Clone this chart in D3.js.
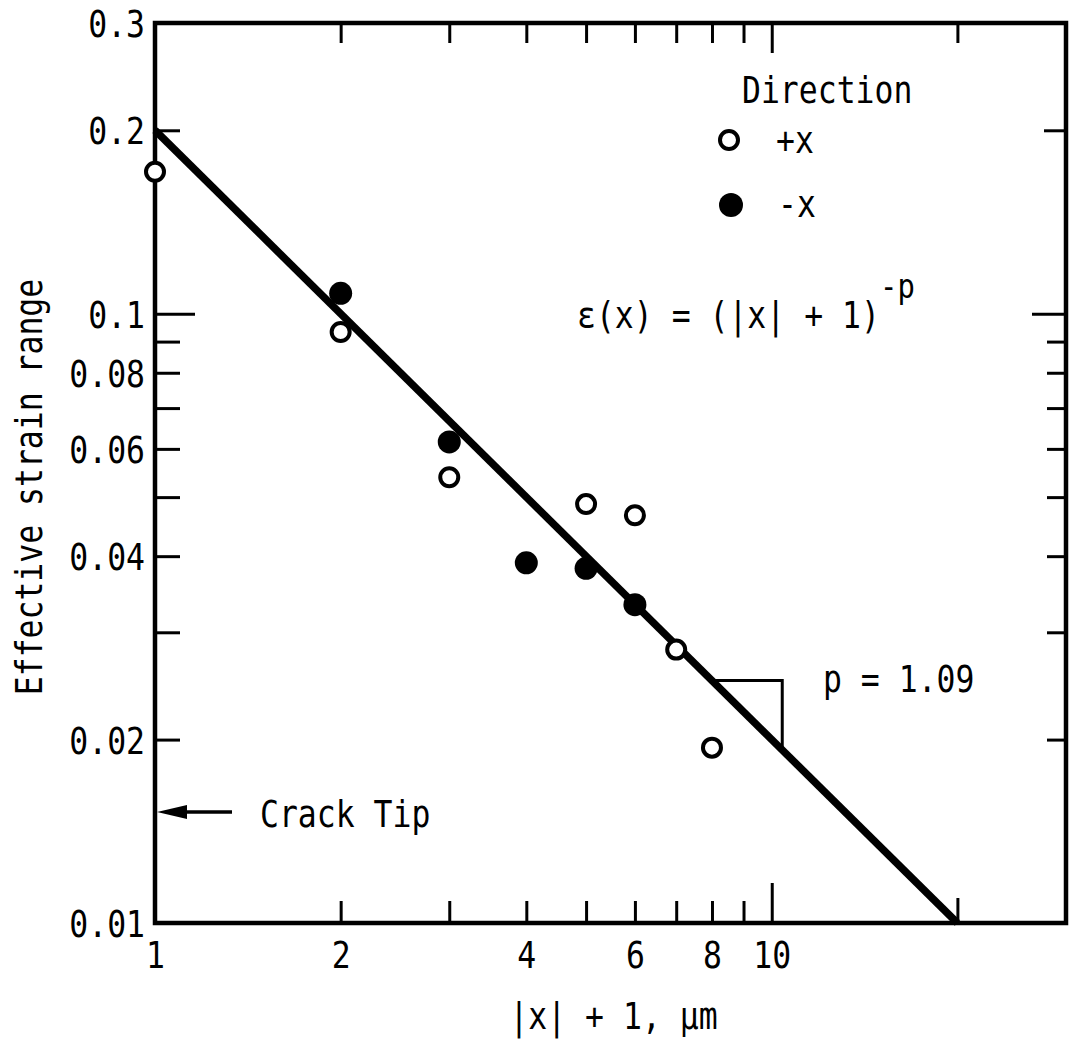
<!DOCTYPE html>
<html>
<head>
<meta charset="utf-8">
<script src="https://cdn.jsdelivr.net/npm/d3@7"></script>
<style>
  html, body { margin: 0; padding: 0; background: #fff; }
  svg { display: block; }
</style>
</head>
<body>
<svg id="chart"></svg>
<script>
// Effective strain range vs distance from crack tip (log-log)

// ---- data ----
const plusX = [1, 2, 3, 5, 6, 7, 8];
const plusStrain = [0.171, 0.0933, 0.0539, 0.0487, 0.0467, 0.0281, 0.0194];

const minusX = [2, 3, 4, 5, 6];
const minusStrain = [0.108, 0.0616, 0.0390, 0.0382, 0.0333];

// fitted power law, drawn as a straight line between its ends
const fitX = [1, 20];
const fitStrain = [0.2, 0.01];

// slope triangle spans these x values along the fit line
const triangleX = [8, 10.4];

const xTickValues = [2, 3, 4, 5, 6, 7, 8, 9, 10, 20];
const xLabelValues = [1, 2, 4, 6, 8, 10];
const yTickValues = [0.02, 0.03, 0.04, 0.05, 0.06, 0.07, 0.08, 0.09, 0.1, 0.2];
const yLabelValues = [0.01, 0.02, 0.04, 0.06, 0.08, 0.1, 0.2, 0.3];

const FONT = '"DejaVu Sans Mono", "Liberation Mono", monospace';
const FONT_SIZE = 37;
const SQUEEZE = 0.85;

const width = 1069;
const height = 1045;
const margin = { left: 155, top: 23, right: 3, bottom: 122 };

const svg = d3.select('#chart')
  .attr('width', width)
  .attr('height', height);

const x = d3.scaleLog()
  .domain([1, 30])
  .range([margin.left, width - margin.right]);

const y = d3.scaleLog()
  .domain([0.01, 0.3])
  .range([height - margin.bottom, margin.top]);

const x0 = x.range()[0], x1 = x.range()[1];
const y0 = y.range()[0], y1 = y.range()[1];

// ---- helpers ----
function label(g, px, py, str, anchor, size) {
  return g.append('text')
    .attr('transform', `translate(${px},${py}) scale(${SQUEEZE},1)`)
    .attr('text-anchor', anchor || 'start')
    .attr('font-family', FONT)
    .attr('font-size', size || FONT_SIZE)
    .attr('fill', '#000')
    .text(str);
}

function styleAxis(g) {
  g.select('.domain').remove();
  g.attr('font-family', FONT).attr('font-size', FONT_SIZE);
  g.selectAll('.tick line').attr('stroke', '#000').attr('stroke-width', 3);
}

// value on the fit line at a given x (straight in log-log space)
function fitAt(xv) {
  const t = (Math.log(xv) - Math.log(fitX[0])) / (Math.log(fitX[1]) - Math.log(fitX[0]));
  return Math.exp(Math.log(fitStrain[0]) + t * (Math.log(fitStrain[1]) - Math.log(fitStrain[0])));
}

// ---- inward ticks on all four sides ----
svg.append('g')
  .attr('transform', `translate(0,${y0})`)
  .call(d3.axisBottom(x).tickValues(xTickValues).tickSize(-22).tickFormat(''))
  .call(styleAxis)
  .selectAll('.tick line')
  .attr('y2', d => d === 10 ? -40 : d === 20 ? -25 : -22);

svg.append('g')
  .attr('transform', `translate(0,${y1})`)
  .call(d3.axisTop(x).tickValues(xTickValues).tickSize(-20).tickFormat(''))
  .call(styleAxis)
  .selectAll('.tick line')
  .attr('y2', d => d === 10 ? 30 : 20);

svg.append('g')
  .attr('transform', `translate(${x0},0)`)
  .call(d3.axisLeft(y).tickValues(yTickValues).tickSize(-25).tickFormat(''))
  .call(styleAxis)
  .selectAll('.tick line')
  .attr('x2', d => d === 0.1 ? 40 : 25);

svg.append('g')
  .attr('transform', `translate(${x1},0)`)
  .call(d3.axisRight(y).tickValues(yTickValues).tickSize(-19).tickFormat(''))
  .call(styleAxis)
  .selectAll('.tick line')
  .attr('x2', d => d === 0.1 ? -34 : d === 0.2 ? -22 : -19);

// ---- tick labels ----
const xLabels = svg.append('g')
  .attr('transform', `translate(0,${y0})`)
  .call(d3.axisBottom(x).tickValues(xLabelValues).tickSize(0).tickFormat(d => String(d)))
  .call(styleAxis);
xLabels.selectAll('.tick text')
  .attr('y', 45)
  .attr('dy', null)
  .attr('transform', `scale(${SQUEEZE},1)`);

const yLabels = svg.append('g')
  .attr('transform', `translate(${x0},0)`)
  .call(d3.axisLeft(y).tickValues(yLabelValues).tickSize(0).tickFormat(d => String(d)))
  .call(styleAxis);
yLabels.selectAll('.tick text')
  .attr('x', -10 / SQUEEZE)
  .attr('y', 13.5)
  .attr('dy', null)
  .attr('transform', `scale(${SQUEEZE},1)`);

// ---- frame ----
svg.append('rect')
  .attr('x', x0)
  .attr('y', y1)
  .attr('width', x1 - x0)
  .attr('height', y0 - y1)
  .attr('fill', 'none')
  .attr('stroke', '#000')
  .attr('stroke-width', 4.5);

// ---- axis titles ----
label(svg, (x0 + x1) / 2 + 3, 1029, '|x| + 1, µm', 'middle');

svg.append('text')
  .attr('transform', `translate(42,487) rotate(-90) scale(${SQUEEZE},1)`)
  .attr('text-anchor', 'middle')
  .attr('font-family', FONT)
  .attr('font-size', FONT_SIZE)
  .text('Effective strain range');

// ---- fit line and slope triangle ----
const line = d3.line()
  .x(d => x(d[0]))
  .y(d => y(d[1]));

svg.append('path')
  .datum(fitX.map((v, i) => [v, fitStrain[i]]))
  .attr('d', line)
  .attr('fill', 'none')
  .attr('stroke', '#000')
  .attr('stroke-width', 7.5);

const triTop = fitAt(triangleX[0]);
svg.append('path')
  .datum([
    [triangleX[0], triTop],
    [triangleX[1], triTop],
    [triangleX[1], fitAt(triangleX[1])]
  ])
  .attr('d', line)
  .attr('fill', 'none')
  .attr('stroke', '#000')
  .attr('stroke-width', 3);

// ---- data points ----
svg.append('g')
  .selectAll('circle')
  .data(minusX.map((v, i) => [v, minusStrain[i]]))
  .enter().append('circle')
  .attr('cx', d => x(d[0]))
  .attr('cy', d => y(d[1]))
  .attr('r', 11.5)
  .attr('fill', '#000');

svg.append('g')
  .selectAll('circle')
  .data(plusX.map((v, i) => [v, plusStrain[i]]))
  .enter().append('circle')
  .attr('cx', d => x(d[0]))
  .attr('cy', d => y(d[1]))
  .attr('r', 9)
  .attr('fill', '#fff')
  .attr('stroke', '#000')
  .attr('stroke-width', 4);

// ---- legend ----
label(svg, 742, 103, 'Direction');
svg.append('circle')
  .attr('cx', 729).attr('cy', 140).attr('r', 9)
  .attr('fill', '#fff').attr('stroke', '#000').attr('stroke-width', 4);
label(svg, 776, 153, '+x');
svg.append('circle')
  .attr('cx', 731).attr('cy', 205).attr('r', 12)
  .attr('fill', '#000');
label(svg, 778, 217, '-x');

// ---- annotations ----
label(svg, 577, 328, 'ε(x) = (|x| + 1)');
label(svg, 880, 298, '-p', 'start', 34);
label(svg, 823, 692, 'p = 1.09');
label(svg, 260, 827, 'Crack Tip');

// crack tip arrow on the left axis
svg.append('line')
  .attr('x1', x0 + 25).attr('y1', 812)
  .attr('x2', x0 + 77).attr('y2', 812)
  .attr('stroke', '#000').attr('stroke-width', 3.5);
svg.append('path')
  .attr('d', `M${x0 + 2},812 L${x0 + 32},805 L${x0 + 32},819 Z`)
  .attr('fill', '#000');
</script>
</body>
</html>
